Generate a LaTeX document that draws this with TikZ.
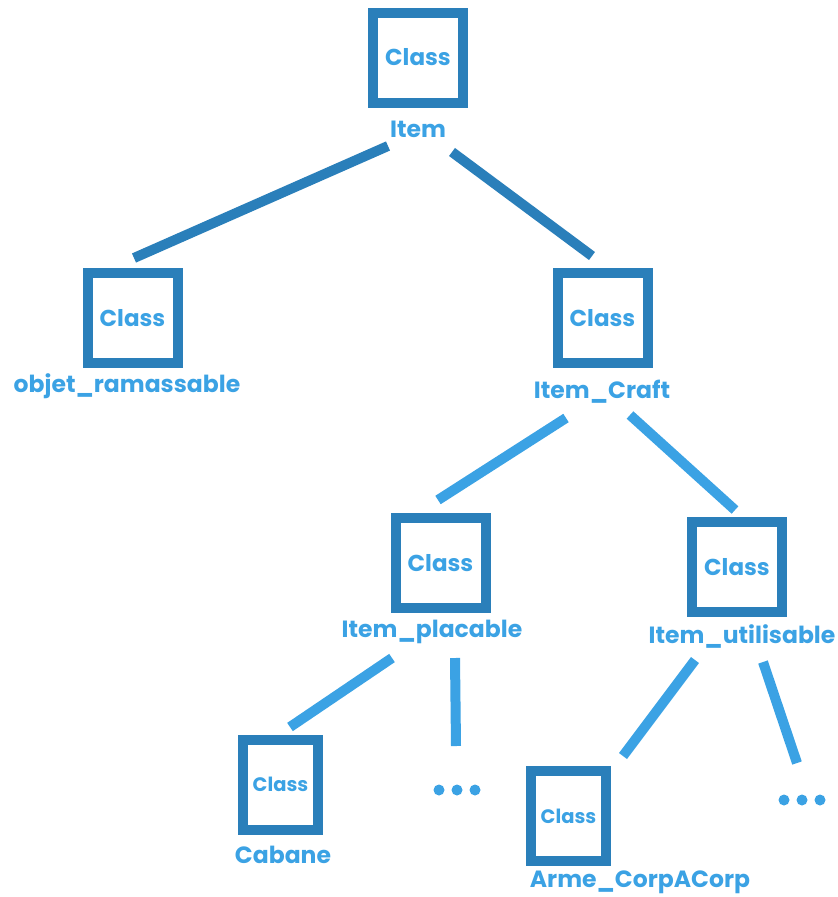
\documentclass[tikz,border=0pt]{standalone}
\usepackage{fontspec}
\setmainfont{Poppins}
\definecolor{boxblue}{HTML}{2A7FBA}
\definecolor{txtblue}{HTML}{3BA2E4}
\definecolor{lineA}{HTML}{2A7FBA}
\definecolor{lineB}{HTML}{3BA2E4}
\newcommand{\clsname}{\raisebox{-2.5pt}{Class}}
\tikzset{
  classbox/.style={draw=boxblue, line width=10pt, fill=white, inner sep=0pt,
    minimum width=90pt, minimum height=90pt, text=txtblue,
    font=\fontsize{23}{25}\selectfont\bfseries},
  narrowbox/.style={classbox, minimum width=75pt, font=\fontsize{19.5}{21}\selectfont\bfseries},
  lbl/.style={text=txtblue, inner sep=0pt, font=\fontsize{23.5}{25}\selectfont\bfseries},
  dotsnode/.style={inner sep=0pt, minimum width=48pt, minimum height=12pt,
    path picture={
      \fill[txtblue] ([xshift=6pt]path picture bounding box.west) circle (5.5pt);
      \fill[txtblue] (path picture bounding box.center) circle (5.5pt);
      \fill[txtblue] ([xshift=-6pt]path picture bounding box.east) circle (5.5pt);
    }},
  linkA/.style={draw=lineA, line width=10pt},
  linkB/.style={draw=lineB, line width=10pt}
}
\begin{document}
\begin{tikzpicture}[x=1pt,y=-1pt]
\useasboundingbox (0,0) rectangle (838,897);
% boxes
\node[classbox] (item) at (418,57.5) {\clsname};
\node[lbl] (itemL) at (418,129) {Item};
\node[classbox] (objet) at (132.5,318) {\clsname};
\node[lbl] (objetL) at (127,386) {objet\_ramassable};
\node[classbox] (craft) at (602.5,318) {\clsname};
\node[lbl] (craftL) at (602,392) {Item\_Craft};
\node[classbox] (plac) at (440.5,563) {\clsname};
\node[lbl] (placL) at (432,632) {Item\_placable};
\node[classbox] (util) at (737,567) {\clsname};
\node[lbl] (utilL) at (742,636) {Item\_utilisable};
\node[narrowbox] (cab) at (280.5,784.5) {\clsname};
\node[lbl] (cabL) at (283,855) {Cabane};
\node[narrowbox] (arme) at (568.5,816) {\clsname};
\node[lbl] (armeL) at (640,882) {Arme\_CorpACorp};
\node[dotsnode] (dotsA) at (457,790) {};
\node[dotsnode] (dotsB) at (802,800) {};
% connector end points
\coordinate (e1a) at (388,146); \coordinate (e1b) at (134,258);
\coordinate (e2a) at (452,152); \coordinate (e2b) at (592,256);
\coordinate (e3a) at (566,418); \coordinate (e3b) at (438,500);
\coordinate (e4a) at (630,415); \coordinate (e4b) at (735,510);
\coordinate (e5a) at (392,658); \coordinate (e5b) at (290,727);
\coordinate (e6a) at (455,658); \coordinate (e6b) at (456,746);
\coordinate (e7a) at (695,660); \coordinate (e7b) at (623,756);
\coordinate (e8a) at (763,662); \coordinate (e8b) at (797,763);
\draw[linkA] (e1a) -- (e1b);
\draw[linkA] (e2a) -- (e2b);
\draw[linkB] (e3a) -- (e3b);
\draw[linkB] (e4a) -- (e4b);
\draw[linkB] (e5a) -- (e5b);
\draw[linkB] (e6a) -- (e6b);
\draw[linkB] (e7a) -- (e7b);
\draw[linkB] (e8a) -- (e8b);
\end{tikzpicture}
\end{document}
